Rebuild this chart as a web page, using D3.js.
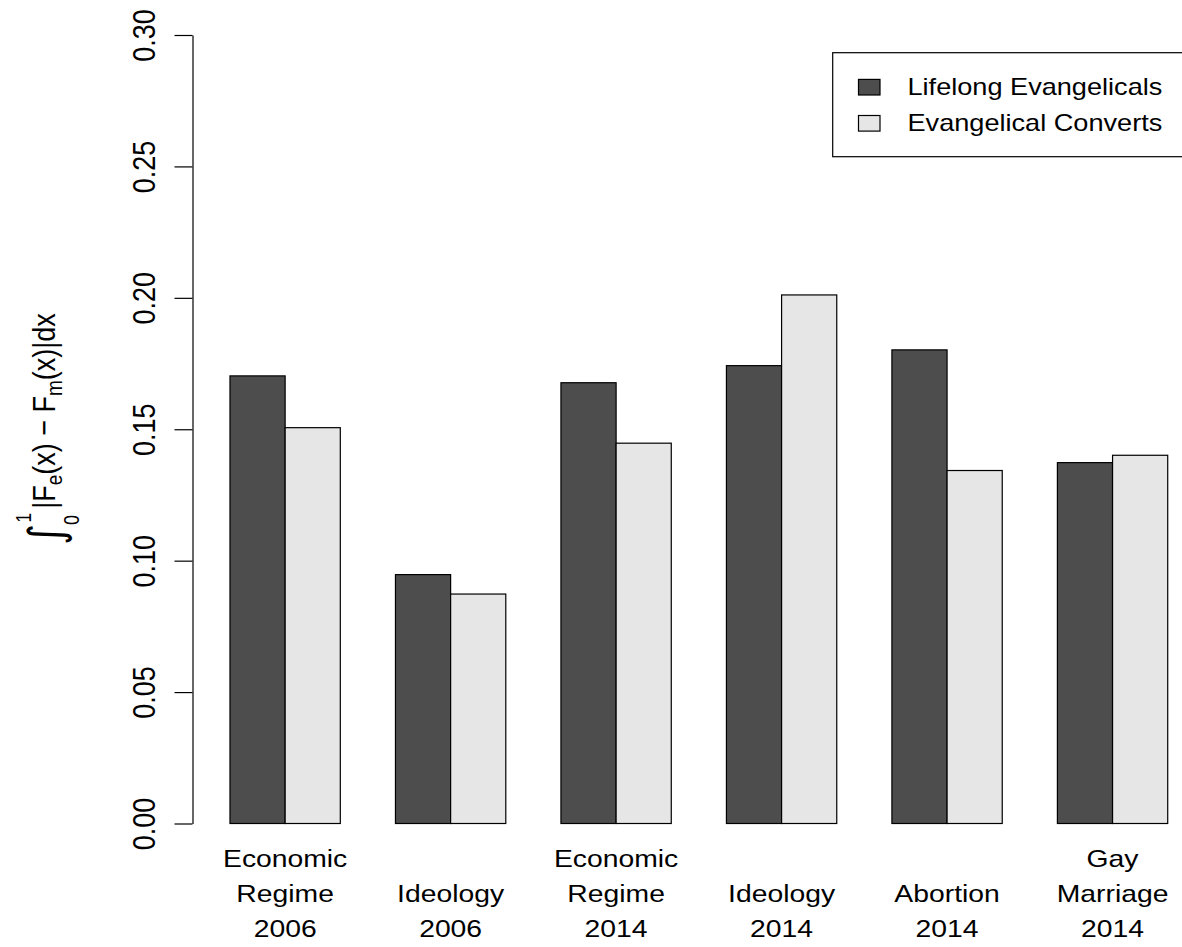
<!DOCTYPE html>
<html>
<head>
<meta charset="utf-8">
<script src="https://cdn.jsdelivr.net/npm/d3@7"></script>
<style>
  html, body { margin: 0; padding: 0; background: #fff; }
  svg { display: block; }
  text { font-family: "Liberation Sans", Arial, Helvetica, sans-serif; fill: #000; }
</style>
</head>
<body>
<svg id="chart" width="1182" height="947"></svg>
<script>
// Category labels (one line per array entry)
const categories = [
  ["Economic", "Regime", "2006"],
  ["Ideology", "2006"],
  ["Economic", "Regime", "2014"],
  ["Ideology", "2014"],
  ["Abortion", "2014"],
  ["Gay", "Marriage", "2014"]
];
const seriesNames = ["Lifelong Evangelicals", "Evangelical Converts"];
const lifelong = [0.1703, 0.0947, 0.1677, 0.1742, 0.1802, 0.1373];
const converts = [0.1506, 0.0873, 0.1447, 0.2011, 0.1343, 0.1401];
const yTicks = [0.00, 0.05, 0.10, 0.15, 0.20, 0.25, 0.30];
const seriesColors = ["#4d4d4d", "#e6e6e6"];

const values = [lifelong, converts];
const groupKeys = categories.map((c, i) => "g" + i);

const svg = d3.select("#chart");
const SX = 1.18; // horizontal text stretch of the device

const plotLeft = 192.5;
const y = d3.scaleLinear().domain([0, 0.30]).range([823.5, 35]);
const x0 = d3.scaleBand().domain(groupKeys).range([202.4, 1195.3])
  .paddingInner(1 / 3).paddingOuter(1 / 6);
const x1 = d3.scaleBand().domain(seriesNames).range([0, x0.bandwidth()]);

// Bars
const groups = svg.append("g").selectAll("g")
  .data(groupKeys)
  .join("g")
  .attr("transform", d => `translate(${x0(d)},0)`);

groups.selectAll("rect")
  .data((d, i) => seriesNames.map((s, j) => ({ s, j, v: values[j][i] })))
  .join("rect")
  .attr("x", d => x1(d.s))
  .attr("width", x1.bandwidth())
  .attr("y", d => y(d.v))
  .attr("height", d => y(0) - y(d.v))
  .attr("fill", d => seriesColors[d.j])
  .attr("stroke", "#000")
  .attr("stroke-width", 1.2);

// Y axis
const yAxis = svg.append("g")
  .attr("transform", `translate(${plotLeft},0)`)
  .call(d3.axisLeft(y).tickValues(yTicks).tickSize(18).tickSizeOuter(0).tickFormat(d3.format(".2f")));
yAxis.select(".domain").attr("stroke-width", 1.2);
yAxis.selectAll(".tick line").attr("stroke-width", 1.2);
yAxis.selectAll(".tick text")
  .attr("x", null).attr("dy", null)
  .attr("font-size", 27)
  .attr("font-family", "Liberation Sans, Arial, sans-serif")
  .attr("text-anchor", "middle")
  .attr("transform", `translate(-37.5,0) scale(${SX},1) rotate(-90)`);

// Category labels below the bars, bottom-aligned
const lineGap = 35;
const lastBaseline = 937.3;
svg.append("g").selectAll("text")
  .data(categories)
  .join("text")
  .attr("text-anchor", "middle")
  .attr("font-size", 24)
  .attr("transform", (d, i) => `translate(${x0(groupKeys[i]) + x0.bandwidth() / 2},${lastBaseline - (d.length - 1) * lineGap}) scale(${SX},1)`)
  .selectAll("tspan")
  .data(d => d)
  .join("tspan")
  .attr("x", 0)
  .attr("dy", (d, k) => k === 0 ? 0 : lineGap)
  .text(d => d);

// Y axis title: integral expression
const yl = svg.append("text")
  .attr("text-anchor", "middle")
  .attr("font-size", 27)
  .attr("transform", `translate(55,429) scale(${SX},1) rotate(-90)`);
yl.append("tspan").attr("font-size", 40).attr("font-family", "DejaVu Sans").attr("dy", 6).text("∫");
yl.append("tspan").attr("font-size", 18).attr("dx", -1).attr("dy", 14).text("0");
yl.append("tspan").attr("font-size", 18).attr("dx", -8).attr("dy", -40).text("1");
yl.append("tspan").attr("dx", 4).attr("dy", 20).text("|F");
yl.append("tspan").attr("font-size", 19).attr("dy", 6).text("e");
yl.append("tspan").attr("dy", -6).text("(x) − F");
yl.append("tspan").attr("font-size", 19).attr("dy", 6).text("m");
yl.append("tspan").attr("dy", -6).text("(x)|dx");

// Legend
const legend = svg.append("g");
legend.append("rect")
  .attr("x", 832.7).attr("y", 52.7)
  .attr("width", 500).attr("height", 104)
  .attr("fill", "#fff").attr("stroke", "#000").attr("stroke-width", 1.2);
const items = legend.selectAll("g.item")
  .data(seriesNames)
  .join("g")
  .attr("class", "item")
  .attr("transform", (d, i) => `translate(0,${87.2 + i * 36.1})`);
items.append("rect")
  .attr("x", 858.5).attr("y", -7.8)
  .attr("width", 21.5).attr("height", 15.6)
  .attr("fill", (d, i) => seriesColors[i])
  .attr("stroke", "#000").attr("stroke-width", 1.2);
items.append("text")
  .attr("font-size", 23)
  .attr("transform", `translate(907.5,7.9) scale(${SX},1)`)
  .text(d => d);
</script>
</body>
</html>
